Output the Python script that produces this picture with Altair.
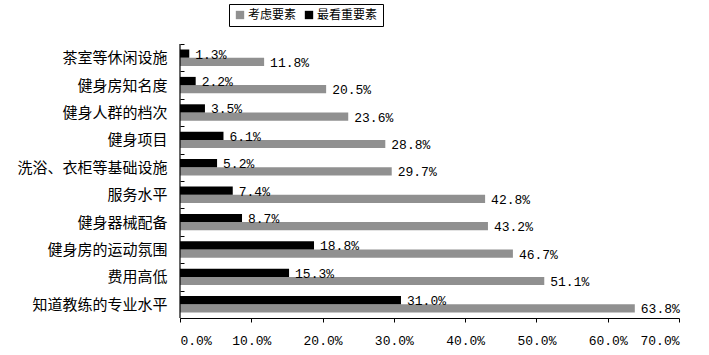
import altair as alt
import pandas as pd

categories = ["茶室等休闲设施", "健身房知名度", "健身人群的档次", "健身项目", "洗浴、衣柜等基础设施",
              "服务水平", "健身器械配备", "健身房的运动氛围", "费用高低", "知道教练的专业水平"]
consider = [11.8, 20.5, 23.6, 28.8, 29.7, 42.8, 43.2, 46.7, 51.1, 63.8]
most = [1.3, 2.2, 3.5, 6.1, 5.2, 7.4, 8.7, 18.8, 15.3, 31.0]
series = ["考虑要素", "最看重要素"]
x_ticks = [0, 10, 20, 30, 40, 50, 60, 70]

rows = []
for c, a, b in zip(categories, consider, most):
    rows.append({"cat": c, "series": series[0], "v": a})
    rows.append({"cat": c, "series": series[1], "v": b})
df = pd.DataFrame(rows)

W, H = 499, 274
cjk = "Noto Sans CJK SC"
mono = "Liberation Mono"

y_enc = alt.Y("cat:N", sort=categories,
              scale=alt.Scale(paddingInner=0, paddingOuter=0),
              axis=alt.Axis(title=None, tickBand="extent", domain=False, offset=-4,
                            tickSize=4, tickColor="black", labelPadding=13,
                            labelFont=cjk, labelFontSize=15, labelColor="black"))
yoff = alt.YOffset("series:N", sort=[series[1], series[0]],
                   scale=alt.Scale(paddingInner=0, paddingOuter=0.67))
x_enc = alt.X("v:Q", scale=alt.Scale(domain=[0, 70], nice=False),
              axis=alt.Axis(title=None, values=x_ticks, grid=False, domain=True,
                            domainColor="black", domainWidth=1, offset=0,
                            tickSize=4, tickColor="black", tickWidth=1, labelPadding=12,
                            labelExpr="format(datum.value, '.1f') + '%'",
                            labelFont=mono, labelFontSize=13, labelColor="black"))

base = alt.Chart(df)

bars = base.mark_bar().encode(
    y=y_enc, yOffset=yoff, x=x_enc,
    color=alt.Color("series:N", sort=series,
                    scale=alt.Scale(domain=series, range=["#909090", "#000000"]),
                    legend=alt.Legend(title=None, orient="none", legendX=49, legendY=-40,
                                      direction="horizontal", symbolType="square",
                                      symbolSize=70, symbolStrokeWidth=0,
                                      strokeColor="black", padding=5,
                                      labelFont=cjk, labelFontSize=12, labelColor="black",
                                      labelOffset=2, columnPadding=6)),
)

labels = base.transform_calculate(
    label="format(datum.v, '.1f') + '%'"
).mark_text(align="left", baseline="middle", dx=6, dy=1, font=mono, fontSize=13,
            color="black").encode(
    y=alt.Y("cat:N", sort=categories), yOffset=yoff, x="v:Q", text="label:N"
)

yline = alt.Chart(pd.DataFrame({"v": [0]})).mark_rule(color="black", strokeWidth=1.2).encode(
    x=alt.X("v:Q")
)

chart = alt.layer(bars, labels, yline).properties(
    width=W, height=H,
    autosize=alt.AutoSizeParams(type="none"),
    padding={"left": 180, "top": 44, "right": 30, "bottom": 37},
    background="white",
).configure_view(stroke=None)

chart.save("out.html", embed_options={"renderer": "svg", "actions": False})
